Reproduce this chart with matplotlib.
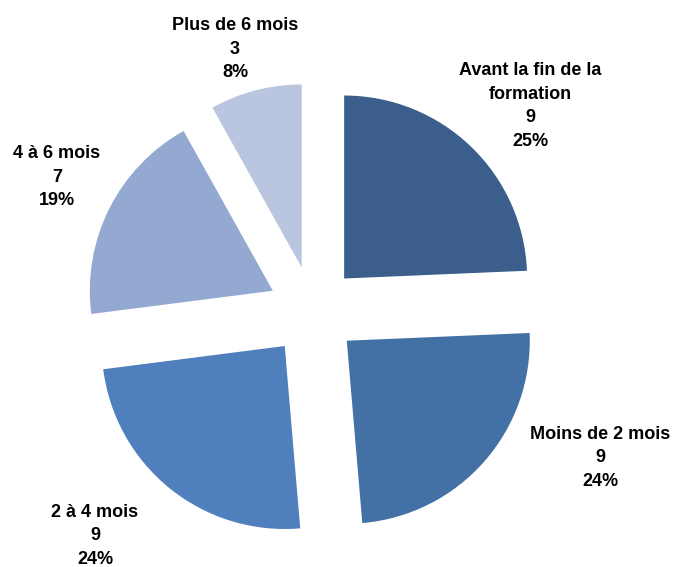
import matplotlib.pyplot as plt

# données
categories = ["Avant la fin de la\nformation", "Moins de 2 mois", "2 à 4 mois",
              "4 à 6 mois", "Plus de 6 mois"]
effectifs = [9, 9, 9, 7, 3]
pourcentages = ["25%", "24%", "24%", "19%", "8%"]

couleurs = ["#3B5E8C", "#4371A6", "#4F80BD", "#93A9D1", "#BAC6DF"]
# position (en pixels) du centre de chaque étiquette
pos_labels = [(530, 106), (600, 458), (95, 536), (57, 177), (235, 49)]

W, H = 680, 567
fig = plt.figure(figsize=(W / 100, H / 100), dpi=100)
ax = fig.add_axes([0, 0, 1, 1])

# explode en unités de données (pixels ici)
ax.pie(effectifs, colors=couleurs, startangle=90, counterclock=False,
       radius=183, center=(313, H - 311), explode=[45] * len(effectifs),
       wedgeprops=dict(linewidth=0))

for cat, n, pct, (x, y) in zip(categories, effectifs, pourcentages, pos_labels):
    ax.text(x, H - y, f"{cat}\n{n}\n{pct}", ha="center", va="center",
            fontsize=13, fontweight="bold", family="Liberation Sans",
            linespacing=1.5, color="black")

ax.set_xlim(0, W)
ax.set_ylim(0, H)
ax.set_aspect("equal")
ax.axis("off")
fig.savefig("out.png", dpi=100)
